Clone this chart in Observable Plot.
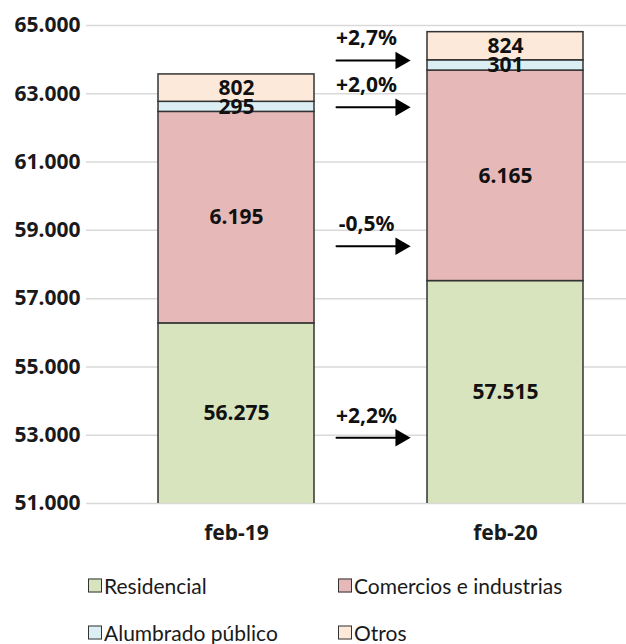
<!DOCTYPE html>
<html>
<head>
<meta charset="utf-8">
<script src="https://cdn.jsdelivr.net/npm/d3@7"></script>
<script src="https://cdn.jsdelivr.net/npm/@observablehq/plot@0.6"></script>
<style>
  body { margin: 0; background: #fff; }
  #chart, #legend { font-family: Lato, "Open Sans", sans-serif; color: #1a1a1a; }
  #legend { position: relative; width: 626px; height: 84px; font-size: 21px; }
  .item { position: absolute; display: flex; align-items: center; transform: translateY(-50%); white-space: nowrap; }
  .sw { flex: none; width: 12px; height: 12px; border: 1.5px solid #333; margin-right: 2px; }
</style>
</head>
<body>
<div id="chart"></div>
<div id="legend"></div>
<script>
// Electricity consumption by customer segment, February 2019 vs February 2020
const periods = ["feb-19", "feb-20"];
const segments = ["Residencial", "Comercios e industrias", "Alumbrado público", "Otros"];
const residencial = [56275, 57515];
const comercios = [6195, 6165];
const alumbrado = [295, 301];
const otros = [802, 824];
const segmentColors = ["#d7e4bd", "#e6b9b8", "#dbeef4", "#fde9d9"];
const yTicks = [51000, 53000, 55000, 57000, 59000, 61000, 63000, 65000];
// level (in axis units) at which each segment's year-on-year arrow sits
const arrowLevels = [52924, 58536, 62607, 63975];

const series = [residencial, comercios, alumbrado, otros];
const yMin = 51000, yMax = 65000;

const locale = d3.formatLocale({decimal: ",", thousands: ".", grouping: [3], currency: ["", ""], minus: "-"});
const fmtInt = locale.format(",d");
const fmtPct = locale.format("+.1f");

// stack the segments per period
const rows = [];
periods.forEach((p, i) => {
  let base = 0;
  series.forEach((s, k) => {
    const y1 = base, y2 = base + s[i];
    rows.push({period: p, segment: segments[k], value: s[i], y1, y2, mid: (Math.max(y1, yMin) + y2) / 2});
    base = y2;
  });
});

// year-on-year change per segment
const changes = series.map((s, k) => ({
  segment: segments[k],
  level: arrowLevels[k],
  label: fmtPct((s[1] / s[0] - 1) * 100) + "%"
}));

const chart = Plot.plot({
  width: 626,
  height: 560,
  marginLeft: 86,
  marginRight: 0,
  marginTop: 25,
  marginBottom: 57,
  style: {fontSize: "21px", fontWeight: "bold", background: "#fff", overflow: "visible"},
  x: {domain: periods, paddingInner: 0.42, paddingOuter: 0.2137, align: 0.626, label: null, tickSize: 0, tickPadding: 22},
  y: {domain: [yMin, yMax], ticks: yTicks, tickFormat: fmtInt, label: null, tickSize: 0, tickPadding: 6},
  color: {domain: segments, range: segmentColors},
  marks: [
    Plot.ruleY(yTicks, {stroke: "#d9d9d9", strokeWidth: 1.5}),
    Plot.barY(rows, {x: "period", y1: "y1", y2: "y2", fill: "segment", stroke: "#333", strokeWidth: 1.5, clip: true}),
    Plot.text(rows, {x: "period", y: "mid", text: d => fmtInt(d.value), fill: "#111"}),
    Plot.arrow(changes, {
      x1: () => periods[0], x2: () => periods[1], y1: "level", y2: "level",
      insetStart: 100, insetEnd: 108, headLength: 0, stroke: "#000", strokeWidth: 2
    }),
    Plot.dot(changes, {x: () => periods[1], y: "level", symbol: "triangle", r: 6.5, rotate: 90, fill: "#000", dx: -105}),
    Plot.text(changes, {x: () => periods[0], y: "level", text: "label", dx: 130, dy: -22, fill: "#111"})
  ]
});
document.getElementById("chart").appendChild(chart);

// legend in two columns
const legend = d3.select("#legend");
const spots = [[88, 25], [338, 25], [88, 72], [338, 72]];
segments.forEach((s, k) => {
  const item = legend.append("div").attr("class", "item")
    .style("left", spots[k][0] + "px").style("top", spots[k][1] + "px");
  item.append("div").attr("class", "sw").style("background", segmentColors[k]);
  item.append("span").text(s);
});
</script>
</body>
</html>
